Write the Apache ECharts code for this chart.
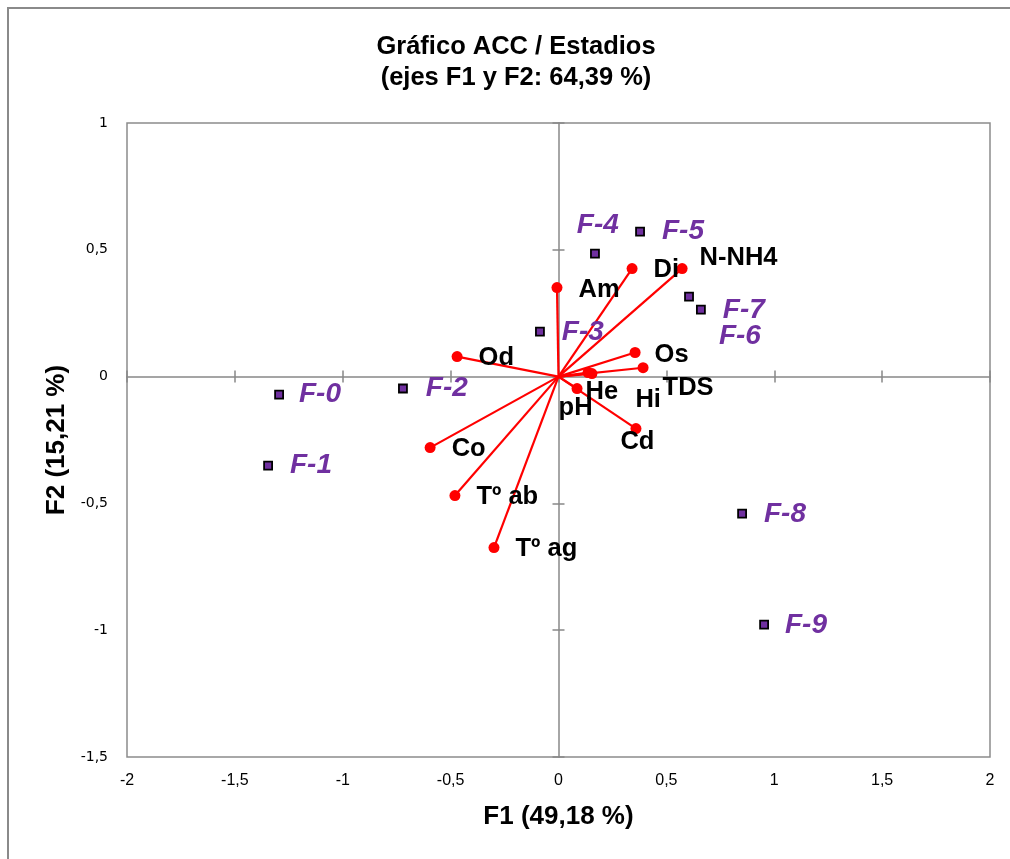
<!DOCTYPE html>
<html>
<head>
<meta charset="utf-8">
<script src="https://cdn.jsdelivr.net/npm/echarts@6/dist/echarts.min.js"></script>
<style>
html,body{margin:0;padding:0;background:#fff;}
#chart{width:1010px;height:859px;}
</style>
</head>
<body>
<div id="chart"></div>
<script>
// ---- Data ----
const obsNames = ['F-0','F-1','F-2','F-3','F-4','F-5','F-6','F-7','F-8','F-9'];
const obsF1 = [-1.295,-1.346,-0.721,-0.086,0.169,0.378,0.605,0.660,0.851,0.953];
const obsF2 = [-0.071,-0.351,-0.047,0.177,0.485,0.572,0.315,0.264,-0.540,-0.978];

const varNames = ['Od','Am','Di','N-NH4','Os','TDS','Hi','He','pH','Cd','Co','Tº ab','Tº ag'];
const varF1 = [-0.470,-0.007,0.341,0.573,0.355,0.392,0.155,0.137,0.086,0.359,-0.595,-0.480,-0.299];
const varF2 = [0.079,0.351,0.426,0.426,0.095,0.035,0.012,0.016,-0.047,-0.205,-0.280,-0.469,-0.674];

const xTicks = [-2,-1.5,-1,-0.5,0,0.5,1,1.5,2];
const yTicks = [-1.5,-1,-0.5,0,0.5,1];

// ---- Layout (label placements, not data) ----
const obsLabelOffset = [[15,0],[17,0],[18,0],[17,1],[-23,-28],[17,0],[25,40],[17,1],[17,1],[16,1]];
const varLabelOffset = [[16,1],[16,2],[16,1],[12,-11],[14,2],[14,20],[38,26],[-8,19],[-24,19],[-21,13],[16,1],[16,1],[16,1]];

const fmt = v => String(v).replace('.', ',');
const grey = '#888888';

const obsData = obsNames.map((n,i)=>({
  name:n, value:[obsF1[i], obsF2[i]],
  label:{offset:obsLabelOffset[i]}
}));
const varData = varNames.map((n,i)=>({
  name:n, value:[varF1[i], varF2[i]],
  label:{offset:varLabelOffset[i]}
}));
const vecData = varNames.map((n,i)=>({coords:[[0,0],[varF1[i], varF2[i]]]}));

const baseX = {type:'value', min:-2, max:2, interval:0.5, splitLine:{show:false}};
const baseY = {type:'value', min:-1.5, max:1, interval:0.5, splitLine:{show:false}};

const chart = echarts.init(document.getElementById('chart'), null, {renderer:'canvas'});
chart.setOption({
  animation:false,
  backgroundColor:'#ffffff',
  title:{
    text:'Gráfico ACC / Estadios\n(ejes F1 y F2: 64,39 %)',
    left:516, textAlign:'center', top:31, padding:0,
    textStyle:{fontFamily:'Liberation Sans, Arial', fontSize:25.5, fontWeight:'bold', color:'#000', lineHeight:31}
  },
  graphic:[{
    type:'rect', silent:true, z:-1,
    shape:{x:8,y:8,width:1100,height:1000},
    style:{fill:'none', stroke:'#8a8a8a', lineWidth:2}
  }],
  grid:{left:127, right:20, top:123, bottom:102, show:true, borderColor:'#8c8c8c', borderWidth:1.5, backgroundColor:'transparent', outerBoundsMode:'none'},
  xAxis:[
    Object.assign({}, baseX, {
      position:'bottom',
      name:'F1 (49,18 %)', nameLocation:'middle', nameGap:47,
      nameTextStyle:{fontFamily:'Liberation Sans, Arial', fontSize:26, fontWeight:'bold', color:'#000'},
      axisLine:{show:false, onZero:false},
      axisTick:{show:false},
      axisLabel:{margin:16, fontFamily:'Liberation Sans Narrow, Arial Narrow, sans-serif', fontSize:16, color:'#000',
        formatter:v => xTicks.indexOf(v) >= 0 ? fmt(v) : ''}
    }),
    Object.assign({}, baseX, {
      position:'bottom',
      axisLine:{show:true, onZero:true, onZeroAxisIndex:0, lineStyle:{color:grey, width:1.5}},
      axisTick:{show:true, inside:true, length:6, lineStyle:{color:grey, width:1.5}},
      axisLabel:{show:false}
    }),
    Object.assign({}, baseX, {
      position:'bottom',
      axisLine:{show:false, onZero:true, onZeroAxisIndex:0},
      axisTick:{show:true, inside:false, length:6, lineStyle:{color:grey, width:1.5}},
      axisLabel:{show:false}
    })
  ],
  yAxis:[
    Object.assign({}, baseY, {
      position:'left',
      name:'F2 (15,21 %)', nameLocation:'middle', nameGap:56, nameRotate:90,
      nameTextStyle:{fontFamily:'Liberation Sans, Arial', fontSize:26, fontWeight:'bold', color:'#000'},
      axisLine:{show:false, onZero:false},
      axisTick:{show:false},
      axisLabel:{margin:19, fontFamily:'DejaVu Sans, Verdana, sans-serif', fontSize:14, color:'#000',
        formatter:v => yTicks.indexOf(v) >= 0 ? fmt(v) : ''}
    }),
    Object.assign({}, baseY, {
      position:'left',
      axisLine:{show:true, onZero:true, onZeroAxisIndex:0, lineStyle:{color:grey, width:1.5}},
      axisTick:{show:true, inside:true, length:6, lineStyle:{color:grey, width:1.5}},
      axisLabel:{show:false}
    }),
    Object.assign({}, baseY, {
      position:'left',
      axisLine:{show:false, onZero:true, onZeroAxisIndex:0},
      axisTick:{show:true, inside:false, length:6, lineStyle:{color:grey, width:1.5}},
      axisLabel:{show:false}
    })
  ],
  series:[
    {
      type:'lines', coordinateSystem:'cartesian2d', xAxisIndex:0, yAxisIndex:0,
      data:vecData, silent:true, z:3,
      lineStyle:{color:'#ff0000', width:2.2, opacity:1}
    },
    {
      type:'scatter', xAxisIndex:0, yAxisIndex:0, z:4,
      data:varData, symbol:'circle', symbolSize:11,
      itemStyle:{color:'#ff0000', opacity:1},
      label:{show:true, position:'right', distance:0, formatter:'{b}',
        fontFamily:'Liberation Sans, Arial', fontSize:25.5, fontWeight:'bold', color:'#000'}
    },
    {
      type:'scatter', xAxisIndex:0, yAxisIndex:0, z:5,
      data:obsData, symbol:'rect', symbolSize:8,
      itemStyle:{color:'#7030A0', borderColor:'#000', borderWidth:1.8, opacity:1},
      label:{show:true, position:'right', distance:0, formatter:'{b}',
        fontFamily:'Liberation Sans, Arial', fontSize:28, fontWeight:'bold', fontStyle:'italic', color:'#7030A0'}
    }
  ]
});
</script>
</body>
</html>
